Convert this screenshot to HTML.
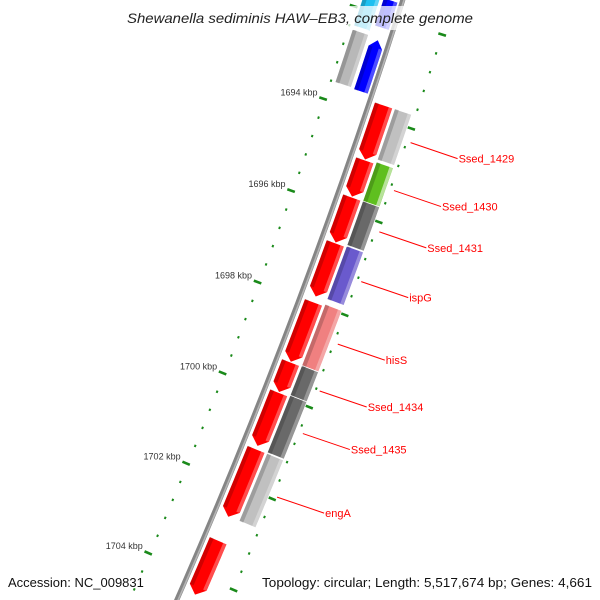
<!DOCTYPE html>
<html><head><meta charset="utf-8"><style>
html,body{margin:0;padding:0;background:#fff;overflow:hidden;}
svg{display:block;font-family:"Liberation Sans","DejaVu Sans",sans-serif;}
</style></head><body>
<svg id="map" width="600" height="600" viewBox="0 0 600 600" xmlns="http://www.w3.org/2000/svg">
<g id="ticks"></g>
<g id="backbone"></g>
<g id="genes"></g>
<g id="labels"></g>
<rect x="118" y="6" width="364" height="24" fill="#fff" opacity="0.75"/>
<text x="127" y="23" textLength="346" lengthAdjust="spacingAndGlyphs" font-size="14" font-style="italic" fill="#222">Shewanella sediminis HAW–EB3, complete genome</text>
<text x="8" y="587" font-size="13" fill="#111">Accession: NC_009831</text>
<text x="262" y="587" textLength="330" lengthAdjust="spacingAndGlyphs" font-size="13" fill="#111">Topology: circular; Length: 5,517,674 bp; Genes: 4,661</text>
</svg>
<script>
// data (kbp)
const geneStarts = [1693.73,1694.91,1695.71,1696.70,1697.98,1699.29,1699.95,1701.19,1703.20,
                    1693.73,1694.87,1695.71,1696.68,1697.94,1699.27,1699.92,1701.19,
                    1691.65,1692.50,1691.30,1692.46];
const geneEnds   = [1694.91,1695.71,1696.70,1697.87,1699.29,1699.95,1701.13,1702.69,1704.41,
                    1694.82,1695.73,1696.66,1697.83,1699.27,1699.97,1701.17,1702.67,
                    1692.25,1693.62,1692.38,1693.60];
const geneRing   = ['fwd','fwd','fwd','fwd','fwd','fwd','fwd','fwd','fwd',
                    'out','out','out','out','out','out','out','out',
                    'rev','rev','in','in'];
const geneColor  = ['#ff0000','#ff0000','#ff0000','#ff0000','#ff0000','#ff0000','#ff0000','#ff0000','#ff0000',
                    '#c0c0c0','#5fbf1f','#696969','#6a5acd','#f08080','#696969','#696969','#c0c0c0',
                    '#0000ff','#0000ff','#1ec0f0','#b8b8b8'];
const labelNames = ['Ssed_1429','Ssed_1430','Ssed_1431','ispG','hisS','Ssed_1434','Ssed_1435','engA'];
const labelGene  = [9,10,11,12,13,14,15,16];
const tickLabels = [1694,1696,1698,1700,1702,1704];

const CX=-5362, CY=-1829, RB=6048;
const ringR = {fwd:[6053,6072], out:[6074,6092], rev:[6029,6044], inn:[6009,6026]};
ringR['in']=ringR.inn;
function ang(k){return (18.73+(k-1694)*0.4648)*Math.PI/180;}
function pt(k,r){const a=ang(k);return [CX+r*Math.cos(a),CY+r*Math.sin(a)];}
const NS='http://www.w3.org/2000/svg';
function mk(tag,attrs,parent){const e=document.createElementNS(NS,tag);for(const k in attrs)e.setAttribute(k,attrs[k]);parent.appendChild(e);return e;}
function arcPts(a,b,r){const p=[];for(let i=0;i<=16;i++){p.push(pt(a+(b-a)*i/16,r));}return p;}
function polyStr(p){return p.map(q=>q[0].toFixed(2)+','+q[1].toFixed(2)).join(' ');}

// backbone
const bb=document.getElementById('backbone');
const bp1=mk('polyline',{points:polyStr(arcPts(1691,1705.2,RB)),fill:'none',stroke:'#858585','stroke-width':5},bb);


const bp2=mk('polyline',{points:polyStr(arcPts(1691,1705.2,RB+1.2)),fill:'none',stroke:'#b5b5b5','stroke-width':1.6},bb);



// ticks
const tg=document.getElementById('ticks');
for(let i=0;i<=38;i++){
  const k=1690+i*0.4;
  const major=(i%5===0);
  const rs = major ? [[5999,6007],[6092,6100]] : [[6003.8,6005.8],[6095,6097]];
  rs.forEach(function(rr){
    const p1=pt(k,rr[0]),p2=pt(k,rr[1]);
    const t=mk('line',{x1:p1[0],y1:p1[1],x2:p2[0],y2:p2[1],stroke:'#1a8a1a','stroke-width':major?2.6:2.4},tg);
    
    
  });
}
tickLabels.forEach(function(k){
  const p=pt(k,5996);
  const t=mk('text',{x:(p[0]+1).toFixed(1),y:(p[1]-1).toFixed(1),'text-anchor':'end','font-size':9,fill:'#333'},tg);
  t.textContent=k+' kbp';
  
  
});

// genes
const gg=document.getElementById('genes');
const H=0.17;
for(let i=0;i<geneStarts.length;i++){
  const a=geneStarts[i],b=geneEnds[i],ring=geneRing[i];
  const r1=ringR[ring][0],r2=ringR[ring][1],rm=(r1+r2)/2;
  let pts,ba=a,bb2=b;
  if(ring==='fwd'){bb2=b-H;pts=arcPts(a,bb2,r2).concat([pt(b,rm)]).concat(arcPts(a,bb2,r1).reverse());}
  else if(ring==='rev'&&i===18){ba=a+H;pts=arcPts(ba,b,r2).concat(arcPts(ba,b,r1).reverse()).concat([pt(a,rm)]);}
  else {pts=arcPts(a,b,r2).concat(arcPts(a,b,r1).reverse());}
  const g=mk('g',{},gg);
  
  
  mk('polygon',{points:polyStr(pts),fill:geneColor[i],stroke:'#fff','stroke-width':0.8},g);
  const d=arcPts(ba,bb2,r1+0.5).concat(arcPts(ba,bb2,r1+4.5).reverse());
  mk('polygon',{points:polyStr(d),fill:'#000',opacity:0.18},g);
  const l=arcPts(ba,bb2,r2-4).concat(arcPts(ba,bb2,r2-0.5).reverse());
  mk('polygon',{points:polyStr(l),fill:'#fff',opacity:geneColor[i]==='#5fbf1f'?0.55:0.3},g);
}

// labels
const lg=document.getElementById('labels');
labelNames.forEach(function(n,j){
  const gi=labelGene[j];
  const m=(geneStarts[gi]+geneEnds[gi])/2;
  const p=pt(m,6100);
  const ln=mk('line',{x1:p[0],y1:p[1],x2:p[0]+47,y2:p[1]+16,stroke:'#ff0000','stroke-width':1},lg);
  
  
  const t=mk('text',{x:(p[0]+48).toFixed(1),y:(p[1]+20).toFixed(1),'font-size':11,fill:'#ff0000'},lg);
  t.textContent=n;
  
  
});
</script>
</body></html>
